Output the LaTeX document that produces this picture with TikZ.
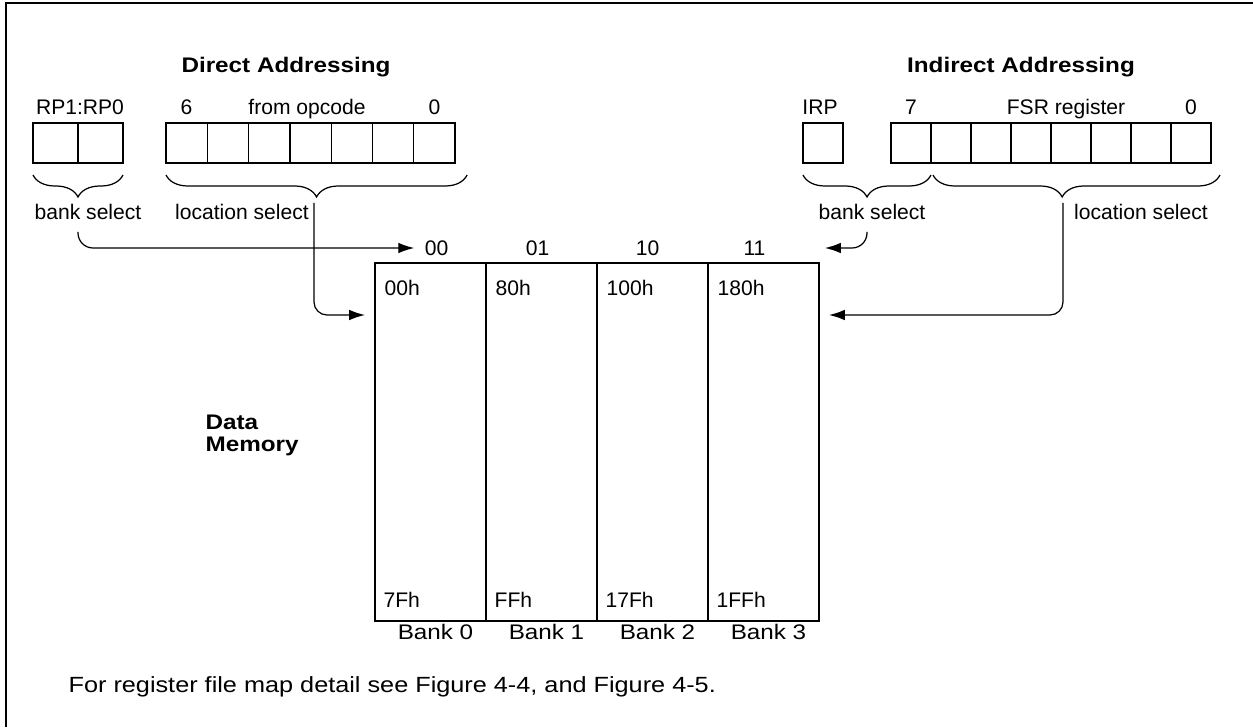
\documentclass[tikz,border=0pt]{standalone}
\usepackage{fontspec}
\setmainfont{Liberation Sans}
\newfontfamily\widefont{Liberation Sans}[FakeStretch=1.15]
\usetikzlibrary{arrows.meta,decorations.pathreplacing}

\begin{document}
\begin{tikzpicture}[
  font=\fontsize{12}{14}\selectfont, line width=0.7pt,
  cell/.style={draw,minimum width=#1,minimum height=0.8cm,inner sep=0pt,outer sep=0pt,anchor=north west},
  cell/.default=0.826cm,
  brace/.style={decorate,decoration={brace,amplitude=0.44cm}},
  arr/.style={-{Latex[length=9pt,width=6pt]},rounded corners=0.3cm},
  lbl/.style={anchor=base,inner sep=0pt},
  addr/.style={anchor=base west,inner sep=0pt},
  banklbl/.style={anchor=base,inner sep=0pt,font=\widefont\fontsize{12}{14}\selectfont},
  title/.style={anchor=base,inner sep=0pt,font=\widefont\fontsize{12}{14}\selectfont\bfseries}]
\useasboundingbox (0,0) rectangle (25.06,14.54);
\draw[line width=1.4pt] (0.12,0) -- (0.12,14.48) -- (25.06,14.48);
%
% direct addressing
\draw (5.72,13.08) node[title] (dtitle) {Direct Addressing};
\draw (1.60,12.24) node[lbl] (rplbl) {RP1:RP0};
\node[cell=0.9cm] (rpA) at (0.66,12.08) {};
\node[cell=0.9cm] (rpB) at (rpA.north east) {};
\foreach \i in {0,...,6}
  \node[cell] (op\i) at (3.32+0.826*\i,12.08) {};
\draw (3.73,12.24) node[lbl] (opmsb) {6};
\draw (6.14,12.24) node[lbl] (oplbl) {from opcode};
\draw (8.69,12.24) node[lbl] (oplsb) {0};
%
\draw[brace] ([yshift=-0.24cm]rpB.south east) -- ([yshift=-0.24cm]rpA.south west);
\draw[brace] ([shift={(0.24,-0.24)}]op6.south east) -- ([yshift=-0.24cm]op0.south west);
\draw (1.76,10.14) node[lbl] (dbank) {bank select};
\draw (4.84,10.14) node[lbl] (dloc) {location select};
%
% indirect addressing
\draw (20.42,13.08) node[title] (ititle) {Indirect Addressing};
\draw (16.40,12.24) node[lbl] (irplbl) {IRP};
\node[cell=0.8cm] (irp) at (16.06,12.08) {};
\foreach \i in {0,...,7}
  \node[cell=0.8cm] (fsr\i) at (17.82+0.8*\i,12.08) {};
\draw (18.22,12.24) node[lbl] (fsrmsb) {7};
\draw (21.32,12.24) node[lbl] (fsrlbl) {FSR register};
\draw (23.82,12.24) node[lbl] (fsrlsb) {0};
%
\draw[brace] ([yshift=-0.24cm]fsr0.south east) -- ([yshift=-0.24cm]irp.south west);
\draw[brace,decoration={aspect=0.55}] ([shift={(0.18,-0.24)}]fsr7.south east) -- ([shift={(0.04,-0.24)}]fsr0.south east);
\draw (17.44,10.14) node[lbl] (ibank) {bank select};
\draw (22.82,10.14) node[lbl] (iloc) {location select};
%
% data memory
\node[draw,anchor=north west,minimum width=8.88cm,minimum height=7.16cm,inner sep=0pt,outer sep=0pt] (mem) at (7.50,9.28) {};
\foreach \x in {2.22,4.44,6.66}
  \draw ([xshift=\x cm]mem.north west) -- ([xshift=\x cm]mem.south west);
\foreach \a [count=\k from 0] in {00h,80h,100h,180h}
  \draw (7.68+2.22*\k,8.64) node[addr] (top\k) {\a};
\foreach \a [count=\k from 0] in {7Fh,FFh,17Fh,1FFh}
  \draw (7.66+2.22*\k,2.40) node[addr] (bot\k) {\a};
\foreach \k in {0,...,3}
  \draw (8.71+2.22*\k,1.76) node[banklbl] (bank\k) {Bank \k};
\draw (8.73,9.58) node[inner sep=0.2cm] (n00) {00};
\draw (10.75,9.58) node[inner sep=0.2cm] (n01) {01};
\draw (12.95,9.58) node[inner sep=0.2cm] (n10) {10};
\draw (15.09,9.58) node[inner sep=0.2cm] (n11) {11};
\draw (4.10,5.52) node[anchor=base west,inner sep=0pt,align=left,font=\widefont\fontsize{12}{12.5}\selectfont\bfseries] (dmem) {Data\\Memory};
%
% connectors
\coordinate (dbankc) at (1.56,9.90);
\coordinate (dlocc) at (6.28,10.48);
\coordinate (ibankc) at (17.34,9.90);
\coordinate (ilocc) at (21.26,10.48);
\draw[arr] (dbankc) |- (n00.west);
\draw[arr,rounded corners=0.26cm] (dlocc) |- ([shift={(-0.2,-1.04)}]mem.north west);
\draw[arr] (ibankc) |- ([xshift=0.12cm]mem.north east |- n11);
\draw[arr,rounded corners=0.26cm] (ilocc) |- ([shift={(0.2,-1.04)}]mem.north east);
%
\draw (1.36,0.70) node[anchor=base west,inner sep=0pt,font=\widefont\fontsize{12.5}{15}\selectfont] (note) {For register file map detail see Figure 4-4, and Figure 4-5.};
\end{tikzpicture}
\end{document}
